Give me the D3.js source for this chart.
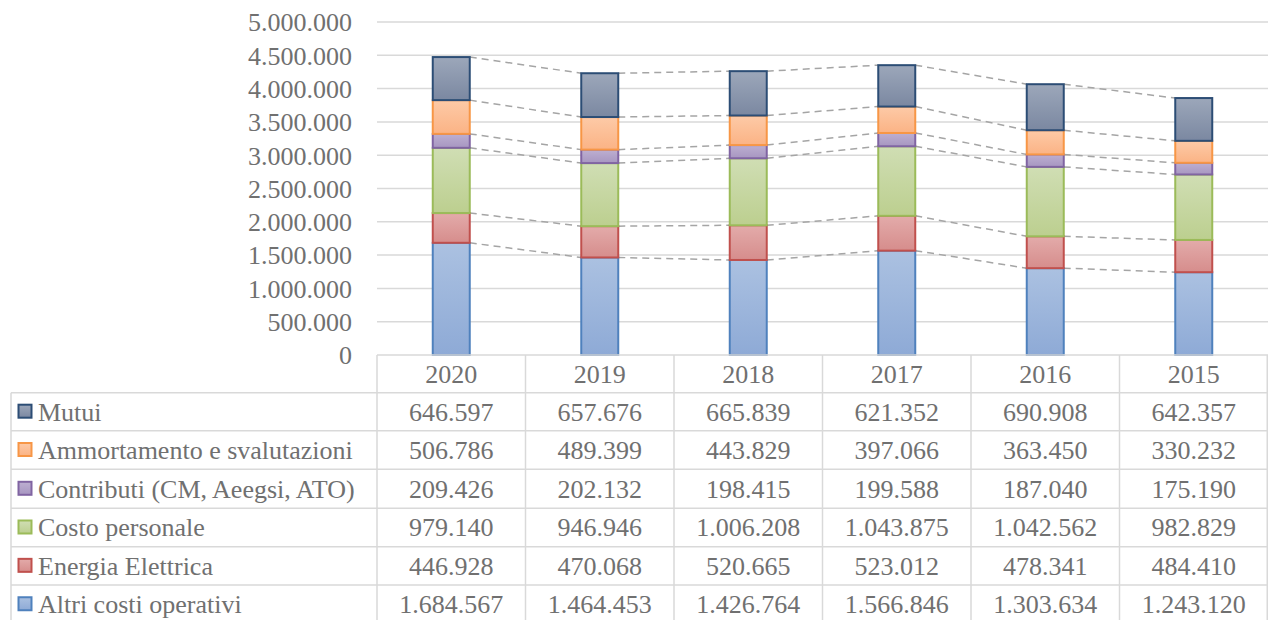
<!DOCTYPE html>
<html><head><meta charset="utf-8">
<script src="https://cdn.jsdelivr.net/npm/d3@7"></script>
<style>
html,body{margin:0;padding:0;background:#fff;}
svg{display:block;}
text{font-family:"Liberation Serif","Times New Roman",serif;fill:#707070;}
</style></head>
<body>
<svg id="c" width="1268" height="620"></svg>
<script>
const categories = ["2020","2019","2018","2017","2016","2015"];
const seriesNames = ["Altri costi operativi","Energia Elettrica","Costo personale","Contributi (CM, Aeegsi, ATO)","Ammortamento e svalutazioni","Mutui"];
const altri = [1684567,1464453,1426764,1566846,1303634,1243120];
const energia = [446928,470068,520665,523012,478341,484410];
const costo = [979140,946946,1006208,1043875,1042562,982829];
const contributi = [209426,202132,198415,199588,187040,175190];
const ammortamento = [506786,489399,443829,397066,363450,330232];
const mutui = [646597,657676,665839,621352,690908,642357];
const yTicks = [0,500000,1000000,1500000,2000000,2500000,3000000,3500000,4000000,4500000,5000000];
const seriesValues = [altri,energia,costo,contributi,ammortamento,mutui];
const strokeColors = ["#4f81bd","#c0504d","#9bbb59","#8064a2","#f79646","#2c4d75"];
const fillTop = ["#abc1e1","#e3abaa","#d0deb4","#bdafd1","#fdcaa7","#9ca7ba"];
const fillBot = ["#8eaad6","#d68d8c","#bccf8f","#a796c1","#fbb385","#7b88a1"];

const svg = d3.select("#c");
const pLeft = 377, pRight = 1268, pTop = 22, pBottom = 355;
const tableLeft = 11;
const rowLines = [392.7, 430.7, 469.3, 508.3, 546.7, 585, 623.5];
const fmt = v => d3.format(",")(v).replace(/,/g, ".");
const FS = 26;

const x = d3.scaleBand().domain(categories).range([pLeft, pRight]).paddingInner(0).paddingOuter(0);
const y = d3.scaleLinear().domain([0, 5000000]).range([pBottom, pTop]);
const barW = 37;

const defs = svg.append("defs");
seriesNames.forEach((n, i) => {
  const g = defs.append("linearGradient").attr("id", "g" + i).attr("x1", 0).attr("y1", 0).attr("x2", 0).attr("y2", 1);
  g.append("stop").attr("offset", "0%").attr("stop-color", fillTop[i]);
  g.append("stop").attr("offset", "100%").attr("stop-color", fillBot[i]);
});

// gridlines
svg.append("g").selectAll("line").data(yTicks.slice(1)).join("line")
  .attr("x1", pLeft).attr("x2", pRight).attr("y1", d => y(d)).attr("y2", d => y(d))
  .attr("stroke", "#d9d9d9").attr("stroke-width", 1.5);

// y axis labels
const yAxis = d3.axisLeft(y).tickValues(yTicks).tickFormat(fmt).tickSize(0).tickPadding(0);
const ya = svg.append("g").attr("transform", `translate(${352},0)`).call(yAxis);
ya.select(".domain").remove();
ya.selectAll("text").attr("font-size", FS).attr("font-family", '"Liberation Serif",serif').attr("fill", "#707070").attr("dy", "0.34em");

// stack
const rows = categories.map((c, j) => { const o = {cat: c}; seriesNames.forEach((n, i) => o[n] = seriesValues[i][j]); return o; });
const stacked = d3.stack().keys(seriesNames)(rows);

// dashed connectors
stacked.forEach((s, i) => {
  for (let j = 0; j < categories.length - 1; j++) {
    const c0 = categories[j], c1 = categories[j + 1];
    svg.append("line")
      .attr("x1", x(c0) + x.bandwidth() / 2 + barW / 2).attr("y1", y(s[j][1]))
      .attr("x2", x(c1) + x.bandwidth() / 2 - barW / 2).attr("y2", y(s[j + 1][1]))
      .attr("stroke", "#a5a5a5").attr("stroke-width", 1.5).attr("stroke-dasharray", "7,5");
  }
});

// bars
stacked.forEach((s, i) => {
  svg.append("g").selectAll("rect").data(s).join("rect")
    .attr("x", d => x(d.data.cat) + x.bandwidth() / 2 - barW / 2)
    .attr("y", d => y(d[1]))
    .attr("width", barW)
    .attr("height", d => y(d[0]) - y(d[1]))
    .attr("fill", `url(#g${i})`)
    .attr("stroke", strokeColors[i]).attr("stroke-width", 2);
});

// table
const tg = svg.append("g");
const lineC = "#d9d9d9";
tg.append("line").attr("x1", pLeft).attr("x2", pRight).attr("y1", pBottom).attr("y2", pBottom).attr("stroke", lineC).attr("stroke-width", 1.5);
rowLines.forEach(yy => tg.append("line").attr("x1", tableLeft).attr("x2", pRight).attr("y1", yy).attr("y2", yy).attr("stroke", lineC).attr("stroke-width", 1.5));
tg.append("line").attr("x1", tableLeft).attr("x2", tableLeft).attr("y1", rowLines[0]).attr("y2", 620).attr("stroke", lineC).attr("stroke-width", 1.5);
categories.forEach(c => {
  tg.append("line").attr("x1", x(c)).attr("x2", x(c)).attr("y1", pBottom).attr("y2", 620).attr("stroke", lineC).attr("stroke-width", 1.5);
});
tg.append("line").attr("x1", pRight - 0.75).attr("x2", pRight - 0.75).attr("y1", pBottom).attr("y2", 620).attr("stroke", lineC).attr("stroke-width", 1.5);

categories.forEach(c => {
  tg.append("text").attr("x", x(c) + x.bandwidth() / 2).attr("y", (pBottom + rowLines[0]) / 2).attr("dy", "0.34em")
    .attr("text-anchor", "middle").attr("font-size", FS).text(c);
});
const order = seriesNames.map((n, i) => i).reverse();
order.forEach((si, r) => {
  const cy = (rowLines[r] + rowLines[r + 1]) / 2;
  tg.append("rect").attr("x", 18.5).attr("y", cy - 7).attr("width", 13).attr("height", 13)
    .attr("fill", `url(#g${si})`).attr("stroke", strokeColors[si]).attr("stroke-width", 2);
  tg.append("text").attr("x", 38).attr("y", cy).attr("dy", "0.34em").attr("font-size", FS).text(seriesNames[si]);
  categories.forEach((c, j) => {
    tg.append("text").attr("x", x(c) + x.bandwidth() / 2).attr("y", cy).attr("dy", "0.34em")
      .attr("text-anchor", "middle").attr("font-size", FS).text(fmt(seriesValues[si][j]));
  });
});
</script>
</body></html>
